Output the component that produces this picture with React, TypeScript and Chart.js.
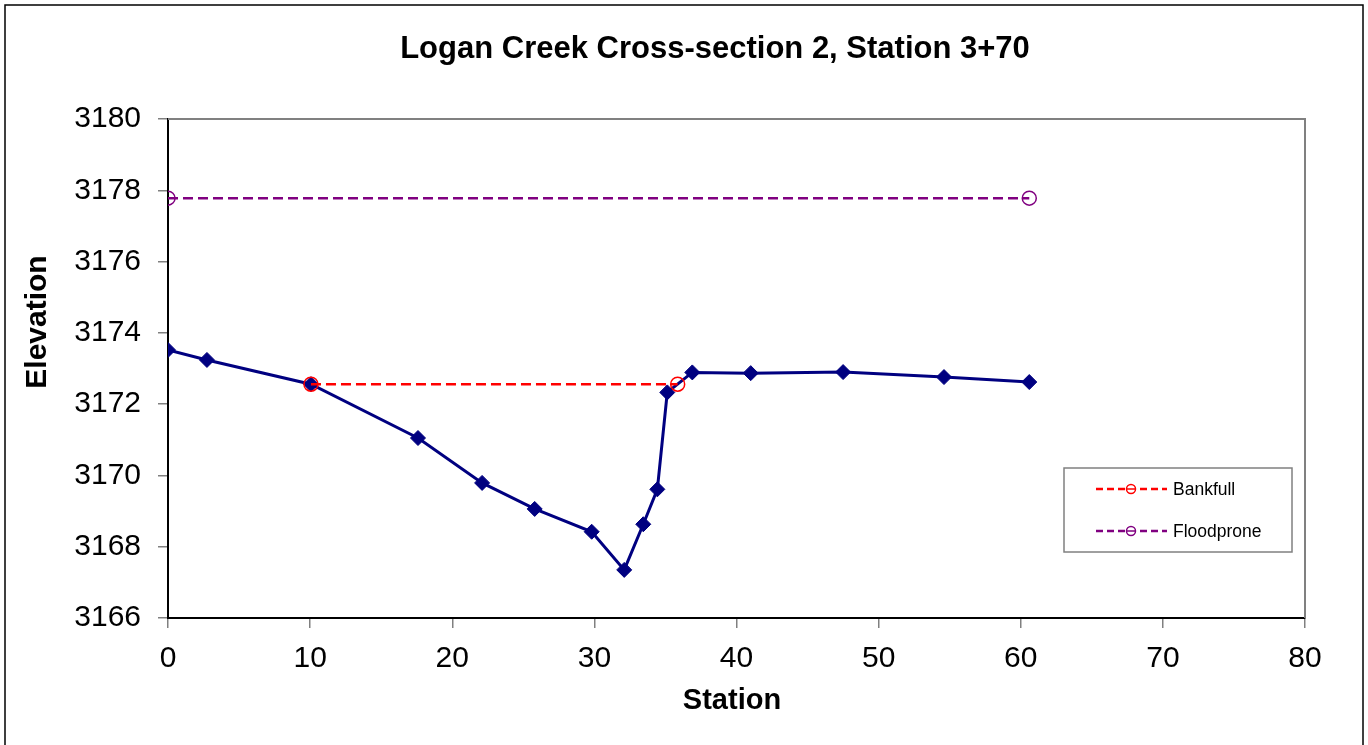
import React, { useEffect, useRef } from "react";
import { Chart, registerables } from "chart.js";

Chart.register(...registerables);

const chartTitle = "Logan Creek Cross-section 2, Station 3+70";
const xAxisTitle = "Station";
const yAxisTitle = "Elevation";

const groundStation = [0, 2.74, 10.06, 17.59, 22.1, 25.8, 29.81, 32.1, 33.44, 34.43, 35.13, 36.89, 41.0, 47.5, 54.6, 60.6];
const groundElevation = [3173.52, 3173.24, 3172.56, 3171.05, 3169.79, 3169.06, 3168.42, 3167.35, 3168.63, 3169.61, 3172.33, 3172.89, 3172.87, 3172.9, 3172.76, 3172.62];

const bankfullStation = [10.06, 35.86];
const bankfullElevation = [3172.56, 3172.56];

const floodproneStation = [0, 60.6];
const floodproneElevation = [3177.78, 3177.78];

const legendLabels = ["Bankfull", "Floodprone"];

const xTicks = [0, 10, 20, 30, 40, 50, 60, 70, 80];
const yTicks = [3166, 3168, 3170, 3172, 3174, 3176, 3178, 3180];

const FONT = "'Liberation Sans', Arial, sans-serif";
const NAVY = "#000080";
const RED = "#FF0000";
const PURPLE = "#800080";

const toPoints = (xs: number[], ys: number[]) => xs.map((x, i) => ({ x, y: ys[i] }));

const decorPlugin = {
  id: "decor",
  beforeDraw(chart: any) {
    const ctx = chart.ctx;
    ctx.save();
    ctx.fillStyle = "#ffffff";
    ctx.fillRect(0, 0, chart.width, chart.height);
    ctx.restore();
  },
  beforeDatasetsDraw(chart: any) {
    const ctx = chart.ctx;
    const a = chart.chartArea;
    ctx.save();
    ctx.strokeStyle = "#808080";
    ctx.lineWidth = 2;
    ctx.beginPath();
    ctx.moveTo(a.left, a.top);
    ctx.lineTo(a.right, a.top);
    ctx.lineTo(a.right, a.bottom);
    ctx.stroke();
    ctx.restore();
  },
  afterDraw(chart: any) {
    const ctx = chart.ctx;
    ctx.save();
    // outer frame
    ctx.strokeStyle = "#000000";
    ctx.lineWidth = 1.5;
    ctx.strokeRect(5, 5, 1358, 760);

    // title
    ctx.fillStyle = "#000000";
    ctx.textAlign = "center";
    ctx.textBaseline = "middle";
    ctx.font = `bold 31px ${FONT}`;
    ctx.fillText(chartTitle, 715, 49);

    // x axis title
    ctx.font = `bold 29px ${FONT}`;
    ctx.fillText(xAxisTitle, 732, 701);

    // y axis title
    ctx.save();
    ctx.font = `bold 30px ${FONT}`;
    ctx.translate(38, 322);
    ctx.rotate(-Math.PI / 2);
    ctx.fillText(yAxisTitle, 0, 0);
    ctx.restore();

    // legend box
    ctx.strokeStyle = "#808080";
    ctx.lineWidth = 1.5;
    ctx.fillStyle = "#ffffff";
    ctx.fillRect(1064, 468, 228, 84);
    ctx.strokeRect(1064, 468, 228, 84);

    const entries = [
      { label: legendLabels[0], color: RED, y: 489 },
      { label: legendLabels[1], color: PURPLE, y: 531 },
    ];
    entries.forEach((e) => {
      ctx.strokeStyle = e.color;
      ctx.lineWidth = 2.5;
      ctx.setLineDash([7, 4]);
      ctx.beginPath();
      ctx.moveTo(1096, e.y);
      ctx.lineTo(1167, e.y);
      ctx.stroke();
      ctx.setLineDash([]);
      ctx.lineWidth = 1.5;
      ctx.fillStyle = "#ffffff";
      ctx.beginPath();
      ctx.arc(1131, e.y, 4.5, 0, Math.PI * 2);
      ctx.fill();
      ctx.stroke();
      ctx.beginPath();
      ctx.moveTo(1127, e.y);
      ctx.lineTo(1135, e.y);
      ctx.stroke();
      ctx.fillStyle = "#000000";
      ctx.textAlign = "left";
      ctx.textBaseline = "middle";
      ctx.font = `17.5px ${FONT}`;
      ctx.fillText(e.label, 1173, e.y + 1);
    });
    ctx.restore();
  },
};

export default function App() {
  const canvasRef = useRef<HTMLCanvasElement | null>(null);

  useEffect(() => {
    const canvas = canvasRef.current;
    if (!canvas) return;
    const chart = new Chart(canvas, {
      type: "scatter",
      data: {
        datasets: [
          {
            label: "Ground",
            data: toPoints(groundStation, groundElevation),
            showLine: true,
            borderColor: NAVY,
            backgroundColor: NAVY,
            borderWidth: 3,
            pointStyle: "rectRot",
            pointRadius: 7.5,
            pointBorderWidth: 1,
            pointBorderColor: NAVY,
            pointBackgroundColor: NAVY,
            order: 3,
          },
          {
            label: legendLabels[0],
            data: toPoints(bankfullStation, bankfullElevation),
            showLine: true,
            borderColor: RED,
            backgroundColor: "rgba(0,0,0,0)",
            borderWidth: 2.5,
            borderDash: [10, 5],
            pointStyle: "circle",
            pointRadius: 7,
            pointBorderWidth: 1.5,
            pointBorderColor: RED,
            pointBackgroundColor: "rgba(0,0,0,0)",
            order: 1,
          },
          {
            label: legendLabels[1],
            data: toPoints(floodproneStation, floodproneElevation),
            showLine: true,
            borderColor: PURPLE,
            backgroundColor: "rgba(0,0,0,0)",
            borderWidth: 2.5,
            borderDash: [10, 5],
            pointStyle: "circle",
            pointRadius: 7,
            pointBorderWidth: 1.5,
            pointBorderColor: PURPLE,
            pointBackgroundColor: "rgba(0,0,0,0)",
            order: 2,
          },
        ],
      },
      options: {
        responsive: false,
        animation: false,
        events: [],
        layout: { padding: { top: 119, right: 63, left: 0, bottom: 0 } },
        plugins: {
          legend: { display: false },
          title: { display: false },
          tooltip: { enabled: false },
        },
        scales: {
          x: {
            type: "linear",
            min: 0,
            max: 80,
            afterFit: (scale: any) => {
              scale.height = 127;
            },
            afterBuildTicks: (scale: any) => {
              scale.ticks = xTicks.map((v) => ({ value: v }));
            },
            border: { display: true, color: "#000000", width: 2 },
            grid: {
              display: true,
              drawOnChartArea: false,
              drawTicks: true,
              tickLength: 10,
              color: "#808080",
              lineWidth: 1.5,
            },
            ticks: {
              color: "#000000",
              padding: 13,
              maxRotation: 0,
              font: { family: FONT, size: 30 },
            },
          },
          y: {
            type: "linear",
            min: 3166,
            max: 3180,
            afterFit: (scale: any) => {
              scale.width = 168;
            },
            afterBuildTicks: (scale: any) => {
              scale.ticks = yTicks.map((v) => ({ value: v }));
            },
            border: { display: true, color: "#000000", width: 2 },
            grid: {
              display: true,
              drawOnChartArea: false,
              drawTicks: true,
              tickLength: 10,
              color: "#808080",
              lineWidth: 1.5,
            },
            ticks: {
              color: "#000000",
              padding: 17,
              font: { family: FONT, size: 30 },
              callback: (v: any) => String(v),
            },
          },
        },
      },
      plugins: [decorPlugin],
    });
    return () => chart.destroy();
  }, []);

  return (
    <div style={{ position: "fixed", left: 0, top: 0, width: 1368, height: 745, background: "#fff" }}>
      <canvas ref={canvasRef} width={1368} height={745} style={{ display: "block" }} />
    </div>
  );
}
